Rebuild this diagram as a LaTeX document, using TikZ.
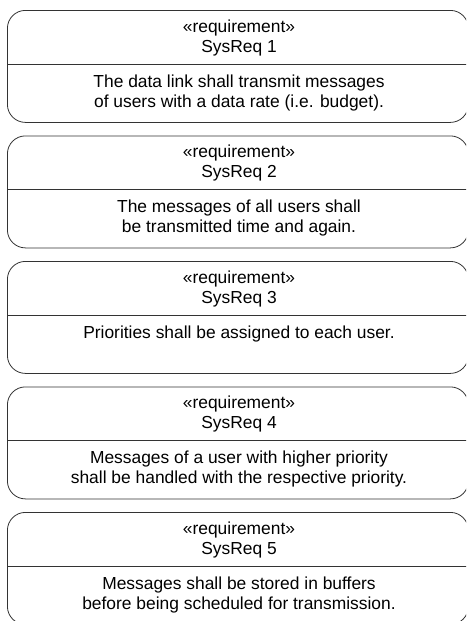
\documentclass[tikz,border=0pt]{standalone}
\usepackage{fontspec}
\setmainfont{Liberation Sans}
\begin{document}
\begin{tikzpicture}[x=1pt, y=-1pt,
  reqbox/.style={draw=black!80, line width=0.8pt, rounded corners=18pt,
    minimum width=461pt, minimum height=112pt, inner sep=0pt, anchor=north west},
  divider/.style={draw=black!80, line width=0.8pt},
  txt/.style={font=\fontsize{17.4}{20}\selectfont, anchor=base, inner sep=0pt}]
\useasboundingbox (0,0) rectangle (466,621);
\clip (0,0) rectangle (466,621);
% one requirement block per entry: number / first body line / second body line
\foreach \i/\la/\lb in {
  1/{The data link shall transmit messages}/{of users with a data rate (i.e. budget).},
  2/{The messages of all users shall}/{be transmitted time and again.},
  3/{Priorities shall be assigned to each user.}/{},
  4/{Messages of a user with higher priority}/{shall be handled with the respective priority.},
  5/{Messages shall be stored in buffers}/{before being scheduled for transmission.}} {
  \pgfmathsetmacro\T{10+125.5*(\i-1)}
  \node[reqbox] (req\i) at (7,\T) {};
  \draw[divider] ([yshift=-54pt]req\i.north west) -- ([yshift=-54pt]req\i.north east);
  \node[txt] (st\i) at (239,\T+22) {«requirement»};
  \node[txt] (id\i) at (239,\T+42) {SysReq \i};
  \node[txt] (ba\i) at (239,\T+77) {\la};
  \node[txt] (bb\i) at (239,\T+97) {\lb};
}
\end{tikzpicture}
\end{document}
